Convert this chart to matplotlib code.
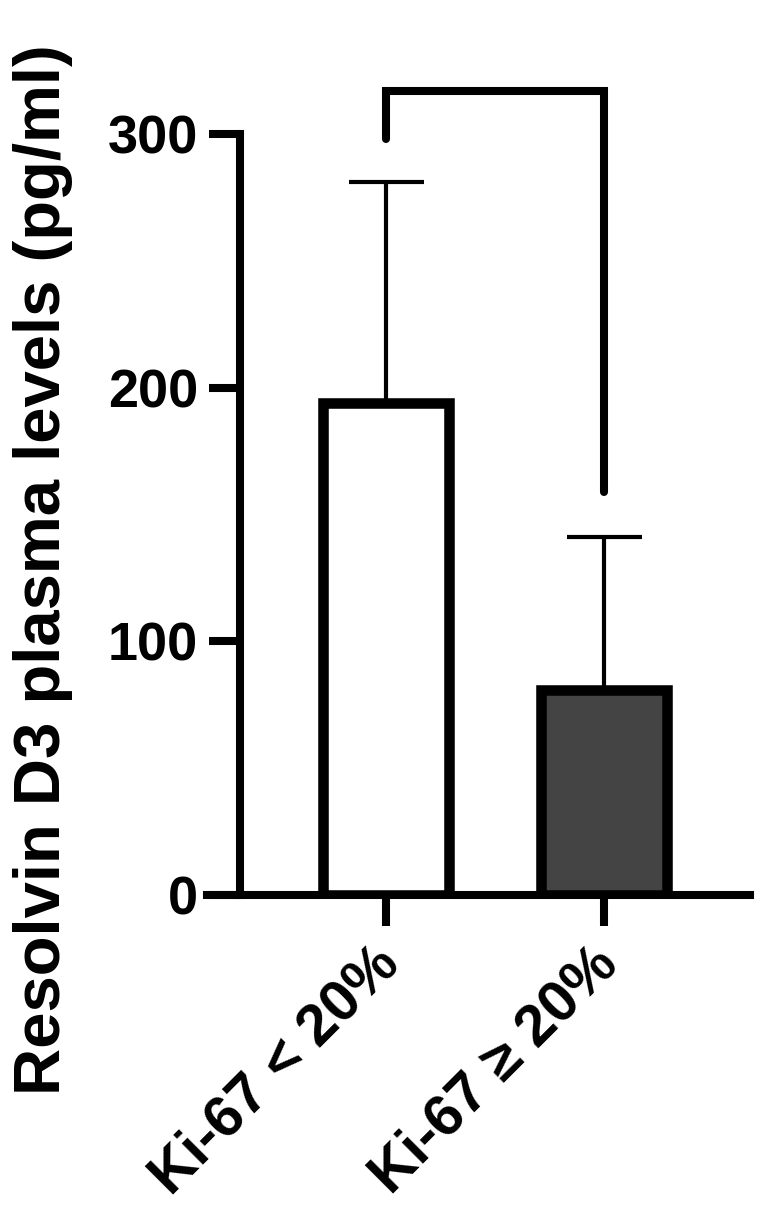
import matplotlib
matplotlib.use('Agg')
import matplotlib.pyplot as plt
import matplotlib.transforms as mtransforms

# data
groups = ['Ki-67 < 20%', 'Ki-67 \u2265 20%']
means = [194, 81]
sd_up = [87, 60]
bar_fill = ['white', '#444444']
yticks = [0, 100, 200, 300]
bracket_top = 317
bracket_legs = [298, 159]

plt.rcParams['font.family'] = ['Liberation Sans', 'DejaVu Sans']
plt.rcParams['font.weight'] = 'bold'

fig = plt.figure(figsize=(7.68, 12.2), dpi=100)
ax = fig.add_axes([207 / 768, 1 - 895 / 1220, (750 - 207) / 768, 837 / 1220])

x = list(range(len(groups)))
ax.bar(x, means, width=0.58, color=bar_fill, edgecolor='black', linewidth=7.6, zorder=3)
ax.errorbar(x, means, yerr=[[0] * len(x), sd_up], fmt='none', ecolor='black',
            elinewidth=3, capsize=27, capthick=3, zorder=2)

# significance bracket
ax.plot([x[0], x[0], x[1], x[1]],
        [bracket_legs[0], bracket_top, bracket_top, bracket_legs[1]],
        color='black', linewidth=5.8, solid_capstyle='round',
        solid_joinstyle='miter', clip_on=False)

ax.set_xlim(-0.821, 1.670)
ax.set_ylim(0, 330)

for s in ['top', 'right']:
    ax.spines[s].set_visible(False)
ax.spines['left'].set_position(('data', -0.67))
ax.spines['left'].set_bounds(0, 300)
ax.spines['left'].set_linewidth(5.8)
ax.spines['bottom'].set_linewidth(5.8)

ax.set_yticks(yticks)
ax.set_yticklabels([str(t) for t in yticks], fontsize=39, fontweight='bold')
ax.set_xticks(x)
ax.set_xticklabels(groups, fontsize=42, fontweight='bold', rotation=45,
                   ha='right', va='top', rotation_mode='anchor')
ax.tick_params(axis='y', length=22, width=5.8, pad=8)
ax.tick_params(axis='x', length=22, width=5.8, pad=10)

# nudge the slanted labels a little left, like the reference
shift = mtransforms.ScaledTranslation(-10 / 72, 2 / 72, fig.dpi_scale_trans)
for lab in ax.get_xticklabels():
    lab.set_transform(lab.get_transform() + shift)

fig.text(43 / 768, 1 - 570 / 1220, 'Resolvin D3 plasma levels (pg/ml)',
         rotation=90, ha='center', va='center', fontsize=47, fontweight='bold')

fig.savefig('out.png', dpi=100)
